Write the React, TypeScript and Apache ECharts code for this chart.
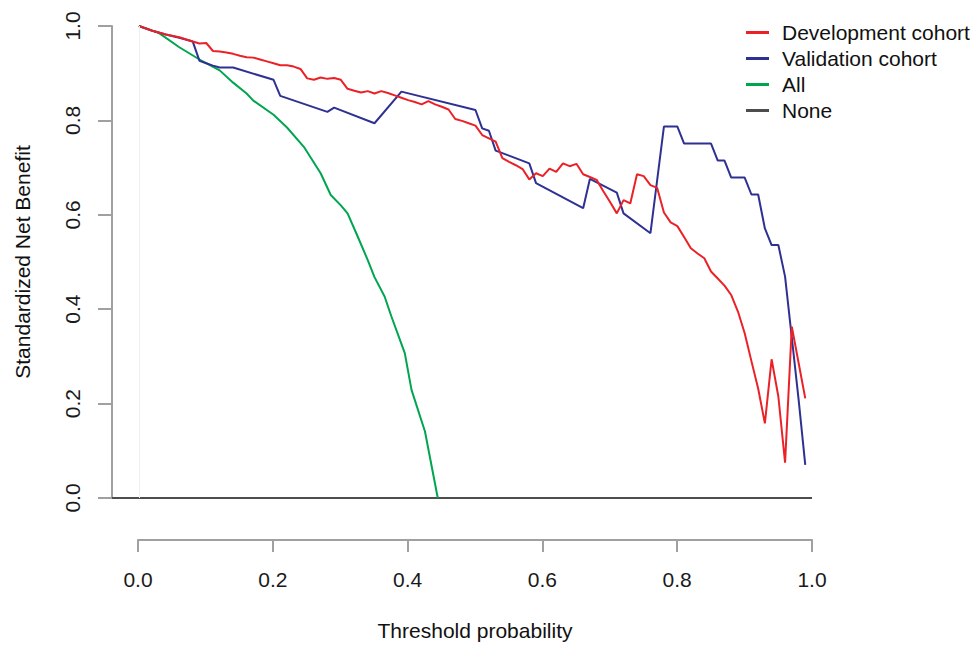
import React, { useEffect, useRef } from "react";
import * as echarts from "echarts";

const FONT = "'Liberation Sans', Arial, Helvetica, sans-serif";

const xTicks = [0, 0.2, 0.4, 0.6, 0.8, 1.0];
const yTicks = [0, 0.2, 0.4, 0.6, 0.8, 1.0];

const seriesNames = ["Development cohort", "Validation cohort", "All", "None"];

const devX = [0, 0.02, 0.04, 0.06, 0.08, 0.09, 0.1, 0.11, 0.12, 0.13, 0.14, 0.15, 0.16, 0.17, 0.18, 0.19, 0.2, 0.21, 0.22, 0.23, 0.24, 0.25, 0.26, 0.27, 0.28, 0.29, 0.3, 0.31, 0.32, 0.33, 0.34, 0.35, 0.36, 0.37, 0.38, 0.39, 0.4, 0.41, 0.42, 0.43, 0.44, 0.45, 0.46, 0.47, 0.48, 0.49, 0.5, 0.51, 0.52, 0.53, 0.54, 0.55, 0.56, 0.57, 0.58, 0.59, 0.6, 0.61, 0.62, 0.63, 0.64, 0.65, 0.66, 0.67, 0.68, 0.69, 0.7, 0.71, 0.72, 0.73, 0.74, 0.75, 0.76, 0.77, 0.78, 0.79, 0.8, 0.81, 0.82, 0.83, 0.84, 0.85, 0.86, 0.87, 0.88, 0.89, 0.9, 0.91, 0.92, 0.93, 0.94, 0.95, 0.96, 0.97, 0.98, 0.99];
const devY = [1.0, 0.99, 0.982, 0.976, 0.967, 0.963, 0.964, 0.947, 0.946, 0.944, 0.941, 0.937, 0.934, 0.933, 0.929, 0.925, 0.921, 0.917, 0.917, 0.914, 0.909, 0.889, 0.886, 0.891, 0.888, 0.89, 0.886, 0.867, 0.863, 0.859, 0.862, 0.857, 0.862, 0.858, 0.853, 0.848, 0.843, 0.839, 0.834, 0.841, 0.834, 0.829, 0.823, 0.803, 0.799, 0.794, 0.789, 0.769, 0.762, 0.755, 0.72, 0.712, 0.705, 0.697, 0.675, 0.688, 0.682, 0.698, 0.691, 0.709, 0.703, 0.708, 0.686, 0.68, 0.674, 0.65, 0.627, 0.603, 0.631, 0.624, 0.686, 0.682, 0.663, 0.657, 0.605, 0.584, 0.576, 0.553, 0.529, 0.518, 0.508, 0.48, 0.465, 0.45, 0.43, 0.395, 0.349, 0.29, 0.232, 0.158, 0.294, 0.215, 0.075, 0.363, 0.287, 0.211];

const valX = [0, 0.02, 0.04, 0.06, 0.08, 0.09, 0.1, 0.11, 0.12, 0.14, 0.2, 0.21, 0.28, 0.29, 0.35, 0.39, 0.5, 0.51, 0.52, 0.53, 0.58, 0.59, 0.66, 0.67, 0.71, 0.72, 0.76, 0.78, 0.8, 0.81, 0.85, 0.86, 0.87, 0.88, 0.9, 0.91, 0.92, 0.93, 0.94, 0.95, 0.96, 0.97, 0.98, 0.99];
const valY = [1.0, 0.99, 0.982, 0.975, 0.967, 0.926, 0.921, 0.916, 0.912, 0.912, 0.886, 0.852, 0.818, 0.827, 0.794, 0.861, 0.822, 0.783, 0.778, 0.736, 0.709, 0.667, 0.614, 0.676, 0.647, 0.603, 0.561, 0.787, 0.787, 0.751, 0.751, 0.715, 0.715, 0.679, 0.679, 0.643, 0.643, 0.571, 0.536, 0.536, 0.469, 0.34, 0.21, 0.07];

const allX = [0, 0.03, 0.06, 0.09, 0.12, 0.14, 0.16, 0.17, 0.2, 0.22, 0.245, 0.27, 0.285, 0.3, 0.31, 0.325, 0.34, 0.35, 0.365, 0.375, 0.395, 0.405, 0.425, 0.444];
const allY = [1.0, 0.985, 0.955, 0.929, 0.906, 0.88, 0.857, 0.842, 0.812, 0.785, 0.744, 0.688, 0.642, 0.62, 0.603, 0.554, 0.504, 0.468, 0.427, 0.385, 0.307, 0.229, 0.141, 0.0];

const noneX = [-0.04, 1.0];
const noneY = [0, 0];

const colors = ["#ea2227", "#2e3192", "#00a54f", "#4d4d4d"];

const pairs = (xs: number[], ys: number[]) => xs.map((x, i) => [x, ys[i]]);

export default function App() {
  const ref = useRef<HTMLDivElement>(null);
  useEffect(() => {
    if (!ref.current) return;
    const chart = echarts.init(ref.current, undefined, { renderer: "svg" });
    const lineSeries = (name: string, data: number[][], color: string, width: number, extra: any = {}) => ({
      name,
      type: "line",
      xAxisIndex: 0,
      yAxisIndex: 0,
      data,
      symbol: "none",
      showSymbol: false,
      lineStyle: { color, width },
      itemStyle: { color },
      ...extra,
    });
    const axisGray = "#a0a0a0";
    const tickFormatter = (ticks: number[]) => (v: number) =>
      ticks.some((t) => Math.abs(t - v) < 1e-9) ? v.toFixed(1) : "";
    chart.setOption({
      animation: false,
      grid: [
        { left: 112, right: 164, top: 26, bottom: 148 },
        { left: 138, right: 164, top: 26, bottom: 104 },
        { left: 112, right: 164, top: 26, bottom: 148 },
      ],
      legend: {
        orient: "vertical",
        left: 746,
        top: 22,
        padding: 0,
        icon: "rect",
        itemWidth: 23,
        itemHeight: 3,
        itemGap: 5,
        textStyle: { fontSize: 21, lineHeight: 21, color: "#111", fontFamily: FONT, padding: [0, 0, 0, 8] },
        data: seriesNames,
      },
      xAxis: [
        { type: "value", gridIndex: 0, min: -0.04, max: 1, show: false },
        {
          type: "value",
          gridIndex: 1,
          min: 0,
          max: 1,
          interval: 0.2,
          name: "Threshold probability",
          nameLocation: "middle",
          nameGap: 80,
          nameTextStyle: { fontSize: 21, color: "#111", fontFamily: FONT },
          axisLine: { show: true, onZero: false, lineStyle: { color: axisGray, width: 2 } },
          axisTick: { show: true, length: 12, lineStyle: { color: axisGray, width: 2 } },
          axisLabel: { fontSize: 21, color: "#1a1a1a", margin: 29, fontFamily: FONT, formatter: tickFormatter(xTicks) },
          splitLine: { show: false },
        },
        { type: "value", gridIndex: 2, min: 0, max: 1, show: false },
      ],
      yAxis: [
        { type: "value", gridIndex: 0, min: 0, max: 1, show: false },
        { type: "value", gridIndex: 1, min: 0, max: 1, show: false },
        {
          type: "value",
          gridIndex: 2,
          min: 0,
          max: 1,
          interval: 0.2,
          name: "Standardized Net Benefit",
          nameLocation: "middle",
          nameGap: 79,
          nameTextStyle: { fontSize: 21, color: "#111", fontFamily: FONT },
          axisLine: { show: true, onZero: false, lineStyle: { color: axisGray, width: 2 } },
          axisTick: { show: true, length: 14, lineStyle: { color: axisGray, width: 2 } },
          axisLabel: {
            fontSize: 21,
            color: "#1a1a1a",
            margin: 29,
            rotate: 90,
            fontFamily: FONT,
            formatter: tickFormatter(yTicks),
          },
          splitLine: { show: false },
        },
      ],
      series: [
        lineSeries("None", pairs(noneX, noneY), colors[3], 2, {
          z: 3,
          markLine: {
            silent: true,
            symbol: "none",
            label: { show: false },
            lineStyle: { color: "#efefef", width: 1, type: "solid" },
            data: [{ xAxis: 0 }],
          },
        }),
        lineSeries("All", pairs(allX, allY), colors[2], 2),
        lineSeries("Validation cohort", pairs(valX, valY), colors[1], 2),
        lineSeries("Development cohort", pairs(devX, devY), colors[0], 2),
      ],
    });
    return () => chart.dispose();
  }, []);
  return (
    <div
      ref={ref}
      style={{ position: "fixed", left: 0, top: 0, width: 976, height: 646, background: "#fff" }}
    />
  );
}
